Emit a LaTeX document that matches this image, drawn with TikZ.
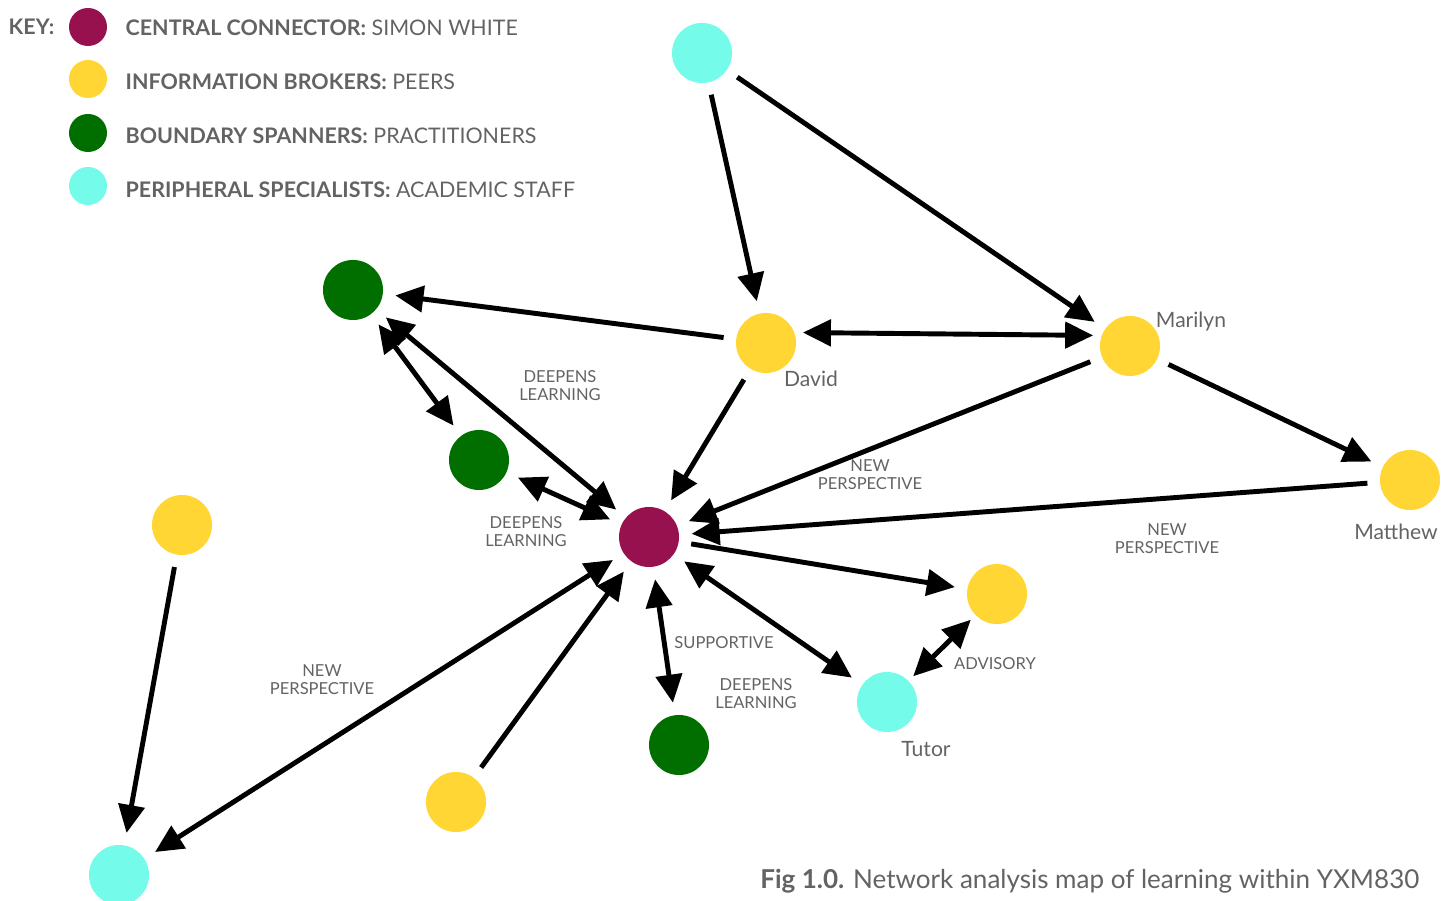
\documentclass[tikz,border=0pt]{standalone}
\usepackage{fontspec}
\setmainfont{Lato}
\usetikzlibrary{arrows.meta}
\definecolor{central}{HTML}{97114E}
\definecolor{broker}{HTML}{FFD633}
\definecolor{spanner}{HTML}{006F00}
\definecolor{periph}{HTML}{74FBEA}
\definecolor{txt}{HTML}{636363}
\tikzset{
  actor/.style={circle,minimum size=0.6cm,inner sep=0pt,draw=none},
  keydot/.style={circle,minimum size=0.38cm,inner sep=0pt,draw=none},
  keytext/.style={anchor=west,text=txt,font=\fontsize{6.1pt}{7.3pt}\selectfont,inner sep=0pt},
  person/.style={text=txt,font=\fontsize{6pt}{7pt}\selectfont,inner sep=0pt},
  lbl/.style={text=txt,align=center,font=\fontsize{4.7pt}{5.1pt}\selectfont,inner sep=0pt},
  arr/.style={line width=1.4pt,->,shorten >=0.12cm,shorten <=0.12cm},
  darr/.style={line width=1.4pt,<->,shorten >=0.12cm,shorten <=0.12cm}
}
\begin{document}
\begin{tikzpicture}[x=0.01cm,y=-0.01cm,>={Triangle[length=0.28cm,width=0.26cm]}]
\useasboundingbox (0,0) rectangle (1449,901);

% key
\node[anchor=west,text=txt,inner sep=0pt,font=\bfseries\fontsize{6.1pt}{7.3pt}\selectfont] (keylabel) at (8,27) {KEY:};
\node[keydot,fill=central] (k1) at (88,27) {};
\node[keydot,fill=broker] (k2) at (88,79) {};
\node[keydot,fill=spanner] (k3) at (88,133) {};
\node[keydot,fill=periph] (k4) at (88,186) {};
\node[keytext] (t1) at (125,28) {\textbf{CENTRAL CONNECTOR:} SIMON WHITE};
\node[keytext] (t2) at (125,82) {\textbf{INFORMATION BROKERS:} PEERS};
\node[keytext] (t3) at (125,136) {\textbf{BOUNDARY SPANNERS:} PRACTITIONERS};
\node[keytext] (t4) at (125,190) {\textbf{PERIPHERAL SPECIALISTS:} ACADEMIC STAFF};

% network
\node[actor,fill=periph] (topc) at (702,53) {};
\node[actor,fill=spanner] (g1) at (353,290) {};
\node[actor,fill=broker] (david) at (766,343) {};
\node[actor,fill=broker] (marilyn) at (1130,346) {};
\node[actor,fill=spanner] (g2) at (479,460) {};
\node[actor,fill=central] (simon) at (649,537) {};
\node[actor,fill=broker] (matthew) at (1410,480) {};
\node[actor,fill=broker] (yleft) at (182,525) {};
\node[actor,fill=broker] (yright) at (997,594) {};
\node[actor,fill=periph] (tutor) at (887,702) {};
\node[actor,fill=spanner] (g3) at (679,745) {};
\node[actor,fill=broker] (ybot) at (456,802) {};
\node[actor,fill=periph] (cbl) at (119,875) {};

% names
\node[person] (nd) at (811,379) {David};
\node[person] (nm) at (1191,322) {Marilyn};
\node[person] (nmt) at (1396,532) {Matthew};
\node[person] (nt) at (926,749) {Tutor};

% connectors
\draw[arr] (topc) -- (david);
\draw[arr] (topc) -- (marilyn);
\draw[arr] (david) -- (g1);
\draw[darr,shorten >=0.08cm,shorten <=0.08cm] (david.20) -- (marilyn.160);
\draw[darr] (g1) -- (simon);
\draw[darr] (g1) -- (g2);
\draw[arr] (david) -- (simon);
\draw[arr] (marilyn) -- (simon);
\draw[arr] (marilyn) -- (matthew);
\draw[arr] (matthew) -- (simon);
\draw[darr] (g2) -- (simon);
\draw[arr] (simon) -- (yright);
\draw[darr] (simon) -- (tutor);
\draw[darr,shorten >=0.06cm,shorten <=0.06cm] (yright) -- (tutor);
\draw[darr] (simon) -- (g3);
\draw[arr] (ybot) -- (simon);
\draw[darr] (simon) -- (cbl);
\draw[arr] (yleft) -- (cbl);

% connector labels
\node[lbl] (l1) at (560,386) {DEEPENS\\LEARNING};
\node[lbl] (l2) at (526,532) {DEEPENS\\LEARNING};
\node[lbl] (l3) at (870,475) {NEW\\PERSPECTIVE};
\node[lbl] (l4) at (1167,539) {NEW\\PERSPECTIVE};
\node[lbl] (l5) at (322,680) {NEW\\PERSPECTIVE};
\node[lbl] (l6) at (724,643) {SUPPORTIVE};
\node[lbl] (l7) at (756,694) {DEEPENS\\LEARNING};
\node[lbl] (l8) at (995,664) {ADVISORY};

% caption
\node[anchor=base east,text=txt,inner sep=0pt,font=\fontsize{7.4pt}{8.8pt}\selectfont] (cap) at (1420,888) {\textbf{Fig 1.0.} Network analysis map of learning within YXM830};
\end{tikzpicture}
\end{document}
